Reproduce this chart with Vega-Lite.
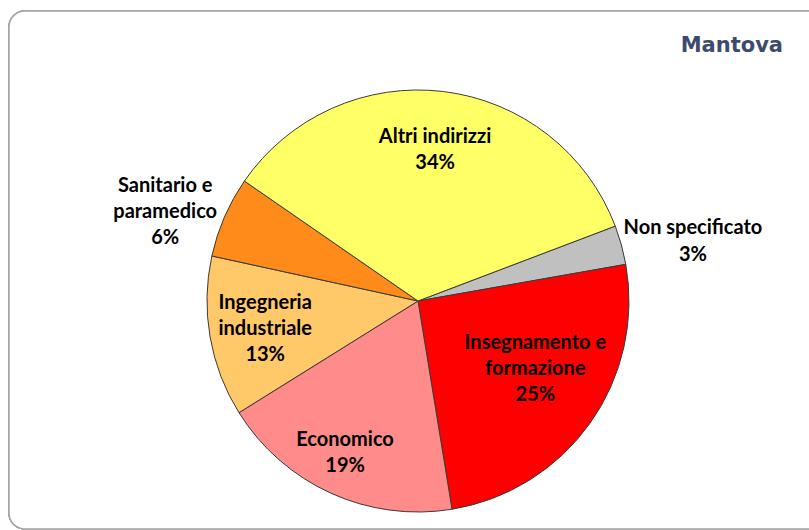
{
  "$schema": "https://vega.github.io/schema/vega-lite/v6.json",
  "width": 820,
  "height": 518,
  "autosize": {"type": "none"},
  "padding": {"left": 9, "top": 11, "right": -20, "bottom": 1},
  "background": "white",
  "config": {"view": {"stroke": null}},
  "title": {
    "text": "Mantova",
    "anchor": "end",
    "orient": "top",
    "frame": "group",
    "offset": -46,
    "dx": -46,
    "font": "DejaVu Sans",
    "fontSize": 21,
    "fontWeight": "bold",
    "color": "#3C4B6C"
  },
  "data": {
    "values": [
      {"ord": 1, "cat": "Non specificato", "pct": 3.0, "label": "Non specificato\n3%"},
      {"ord": 2, "cat": "Insegnamento e formazione", "pct": 25.2, "label": "Insegnamento e\nformazione\n25%"},
      {"ord": 3, "cat": "Economico", "pct": 18.7, "label": "Economico\n19%"},
      {"ord": 4, "cat": "Ingegneria industriale", "pct": 12.3, "label": "Ingegneria\nindustriale\n13%"},
      {"ord": 5, "cat": "Sanitario e paramedico", "pct": 6.2, "label": "Sanitario e\nparamedico\n6%"},
      {"ord": 6, "cat": "Altri indirizzi", "pct": 34.6, "label": "Altri indirizzi\n34%"}
    ]
  },
  "encoding": {
    "theta": {"field": "pct", "type": "quantitative", "stack": true, "scale": {"range": [1.2078, 7.491]}},
    "order": {"field": "ord", "type": "quantitative"}
  },
  "layer": [
    {
      "mark": {"type": "rect", "fill": "white", "stroke": "#A6A6A6", "strokeWidth": 1.5, "cornerRadius": 16},
      "encoding": {
        "theta": null,
        "order": null,
        "x": {"datum": 0, "type": "quantitative", "scale": {"domain": [0, 1], "nice": false, "zero": false}, "axis": null},
        "x2": {"datum": 1},
        "y": {"datum": 0, "type": "quantitative", "scale": {"domain": [0, 1], "nice": false, "zero": false}, "axis": null},
        "y2": {"datum": 1}
      }
    },
    {
      "mark": {"type": "arc", "radius": 211, "x": 409, "y": 290, "stroke": "#3A3A3A", "strokeWidth": 1},
      "encoding": {
        "color": {
          "field": "cat",
          "type": "nominal",
          "scale": {
            "domain": ["Non specificato", "Insegnamento e formazione", "Economico", "Ingegneria industriale", "Sanitario e paramedico", "Altri indirizzi"],
            "range": ["#C0C0C0", "#FF0000", "#FF8B8B", "#FFC869", "#FF8C1A", "#FFFF66"]
          },
          "legend": null
        }
      }
    },
    {
      "mark": {"type": "text", "radius": 150, "x": 409, "y": 290, "dx": -1, "dy": -15, "font": "Lato", "fontSize": 20, "fontWeight": "bold", "lineBreak": "\n", "lineHeight": 26, "align": "center", "baseline": "middle", "color": "#000000"},
      "encoding": {"text": {"condition": {"test": "datum.cat == 'Altri indirizzi'", "field": "label"}, "value": ""}}
    },
    {
      "mark": {"type": "text", "radius": 150, "x": 409, "y": 290, "dx": -5, "dy": -45, "font": "Lato", "fontSize": 20, "fontWeight": "bold", "lineBreak": "\n", "lineHeight": 26, "align": "center", "baseline": "middle", "color": "#000000"},
      "encoding": {"text": {"condition": {"test": "datum.cat == 'Insegnamento e formazione'", "field": "label"}, "value": ""}}
    },
    {
      "mark": {"type": "text", "radius": 150, "x": 409, "y": 290, "dx": -11, "dy": 2, "font": "Lato", "fontSize": 20, "fontWeight": "bold", "lineBreak": "\n", "lineHeight": 26, "align": "center", "baseline": "middle", "color": "#000000"},
      "encoding": {"text": {"condition": {"test": "datum.cat == 'Economico'", "field": "label"}, "value": ""}}
    },
    {
      "mark": {"type": "text", "radius": 150, "x": 409, "y": 290, "dx": -5, "dy": -24, "font": "Lato", "fontSize": 20, "fontWeight": "bold", "lineBreak": "\n", "lineHeight": 26, "align": "center", "baseline": "middle", "color": "#000000"},
      "encoding": {"text": {"condition": {"test": "datum.cat == 'Ingegneria industriale'", "field": "label"}, "value": ""}}
    },
    {
      "mark": {"type": "text", "radius": 280, "x": 409, "y": 290, "dx": 4, "dy": -3, "font": "Lato", "fontSize": 20, "fontWeight": "bold", "lineBreak": "\n", "lineHeight": 26, "align": "center", "baseline": "middle", "color": "#000000"},
      "encoding": {"text": {"condition": {"test": "datum.cat == 'Sanitario e paramedico'", "field": "label"}, "value": ""}}
    },
    {
      "mark": {"type": "text", "radius": 280, "x": 409, "y": 290, "dx": 5, "dy": 1, "font": "Lato", "fontSize": 20, "fontWeight": "bold", "lineBreak": "\n", "lineHeight": 27, "align": "center", "baseline": "middle", "color": "#000000"},
      "encoding": {"text": {"condition": {"test": "datum.cat == 'Non specificato'", "field": "label"}, "value": ""}}
    }
  ]
}
